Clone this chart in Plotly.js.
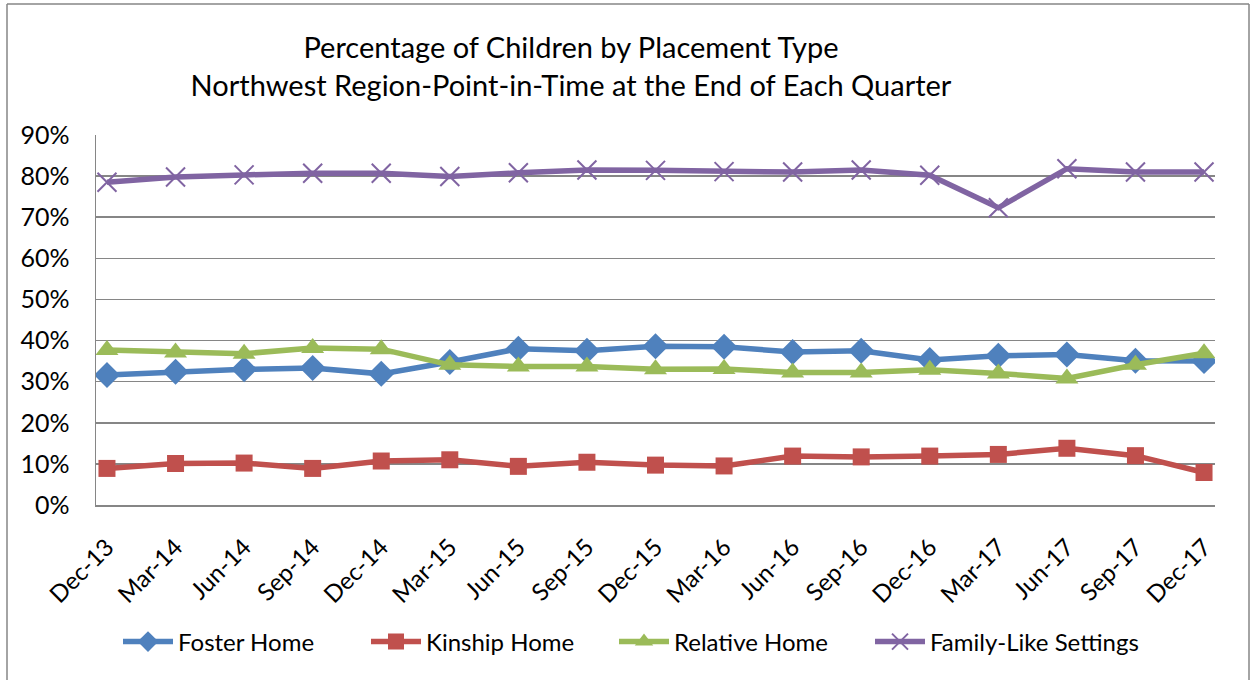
<!DOCTYPE html>
<html>
<head>
<meta charset="utf-8">
<script src="https://cdn.plot.ly/plotly-3.0.1.min.js"></script>
<style>
html,body{margin:0;padding:0;background:#fff;}
#chart{width:1253px;height:680px;}
</style>
</head>
<body>
<div id="chart"></div>
<script>
const categories = ["Dec-13","Mar-14","Jun-14","Sep-14","Dec-14","Mar-15","Jun-15","Sep-15","Dec-15","Mar-16","Jun-16","Sep-16","Dec-16","Mar-17","Jun-17","Sep-17","Dec-17"];
const fosterHome = [31.6, 32.4, 33.0, 33.3, 31.9, 34.8, 38.0, 37.5, 38.6, 38.5, 37.2, 37.5, 35.3, 36.3, 36.6, 35.1, 35.0];
const kinshipHome = [8.9, 10.1, 10.2, 8.9, 10.7, 11.0, 9.4, 10.4, 9.7, 9.5, 11.9, 11.7, 11.9, 12.3, 13.8, 12.0, 7.9];
const relativeHome = [37.7, 37.1, 36.8, 38.2, 37.9, 34.1, 33.7, 33.7, 33.0, 33.1, 32.2, 32.2, 32.9, 32.0, 30.8, 34.1, 36.9];
const familyLike = [78.5, 79.8, 80.3, 80.7, 80.7, 79.9, 80.8, 81.5, 81.4, 81.1, 81.0, 81.5, 80.2, 72.3, 81.8, 81.0, 81.0];
const yTicks = [0,10,20,30,40,50,60,70,80,90];

const FONT = "Lato, 'Open Sans', sans-serif";

function series(name, y, color, symbol, size, extra) {
  return Object.assign({
    type: "scatter", mode: "lines+markers", name: name,
    x: categories, y: y,
    line: {color: color, width: 5.5},
    marker: {color: color, symbol: symbol, size: size}
  }, extra || {});
}

const data = [
  series("Foster Home", fosterHome, "#4F81BD", "diamond", 20),
  series("Kinship Home", kinshipHome, "#C0504D", "square", 17),
  series("Relative Home", relativeHome, "#9BBB59", "triangle-up", 20),
  series("Family-Like Settings", familyLike, "#8064A2", "x-thin", 19,
    {marker: {color: "#8064A2", symbol: "x-thin", size: 19, line: {color: "#8064A2", width: 2}},
     legend: "legend2"})
];

const L = 96, R = 1215, T = 135, B = 505;
const pw = R - L, ph = B - T;
function px(x){ return (x - L) / pw; }
function py(y){ return (B - y) / ph; }

const legendFont = {family: FONT, size: 24, color: "#000"};

const layout = {
  width: 1253, height: 680,
  margin: {l: L, r: 1253 - R, t: T, b: 680 - B},
  paper_bgcolor: "#fff", plot_bgcolor: "#fff",
  font: {family: FONT, size: 24, color: "#000"},
  title: {
    text: "Percentage of Children by Placement Type<br>Northwest Region-Point-in-Time at the End of Each Quarter",
    font: {family: FONT, size: 29, color: "#000"},
    x: 571 / 1253, xref: "container", xanchor: "center",
    y: 1 - 58 / 680, yref: "container", yanchor: "top"
  },
  showlegend: true,
  legend: {
    orientation: "h", x: px(118), xref: "paper", xanchor: "left",
    y: py(642), yanchor: "middle",
    font: legendFont,
    traceorder: "normal", itemwidth: 50,
    entrywidth: 183, entrywidthmode: "pixels"
  },
  legend2: {
    orientation: "h", x: px(870), xref: "paper", xanchor: "left",
    y: py(642), yanchor: "middle",
    font: legendFont,
    itemwidth: 50
  },
  xaxis: {
    type: "category", range: [-0.16, 16.16],
    tickangle: -45, showgrid: false,
    showline: true, linecolor: "#868686", linewidth: 1.5,
    ticks: "outside", ticklen: 17, tickcolor: "rgba(0,0,0,0)",
    tickfont: {family: FONT, size: 24, color: "#000"},
    fixedrange: true
  },
  yaxis: {
    range: [0, 90], tickvals: yTicks, ticktext: yTicks.map(v => v + "%"),
    showgrid: true, gridcolor: "#868686", gridwidth: 1.5,
    showline: true, linecolor: "#868686", linewidth: 1.5,
    zeroline: false,
    ticks: "outside", ticklen: 20, tickcolor: "rgba(0,0,0,0)",
    tickfont: {family: FONT, size: 25, color: "#000"},
    fixedrange: true
  },
  shapes: [
    {type: "line", xref: "paper", yref: "paper", x0: px(7), x1: px(7), y0: py(4), y1: py(690), line: {color: "#868686", width: 1.5}},
    {type: "line", xref: "paper", yref: "paper", x0: px(7), x1: px(1249), y0: py(4), y1: py(4), line: {color: "#868686", width: 1.5}},
    {type: "line", xref: "paper", yref: "paper", x0: px(1249), x1: px(1249), y0: py(4), y1: py(690), line: {color: "#868686", width: 1.5}}
  ]
};

Plotly.newPlot("chart", data, layout, {displayModeBar: false, staticPlot: true});
</script>
</body>
</html>
